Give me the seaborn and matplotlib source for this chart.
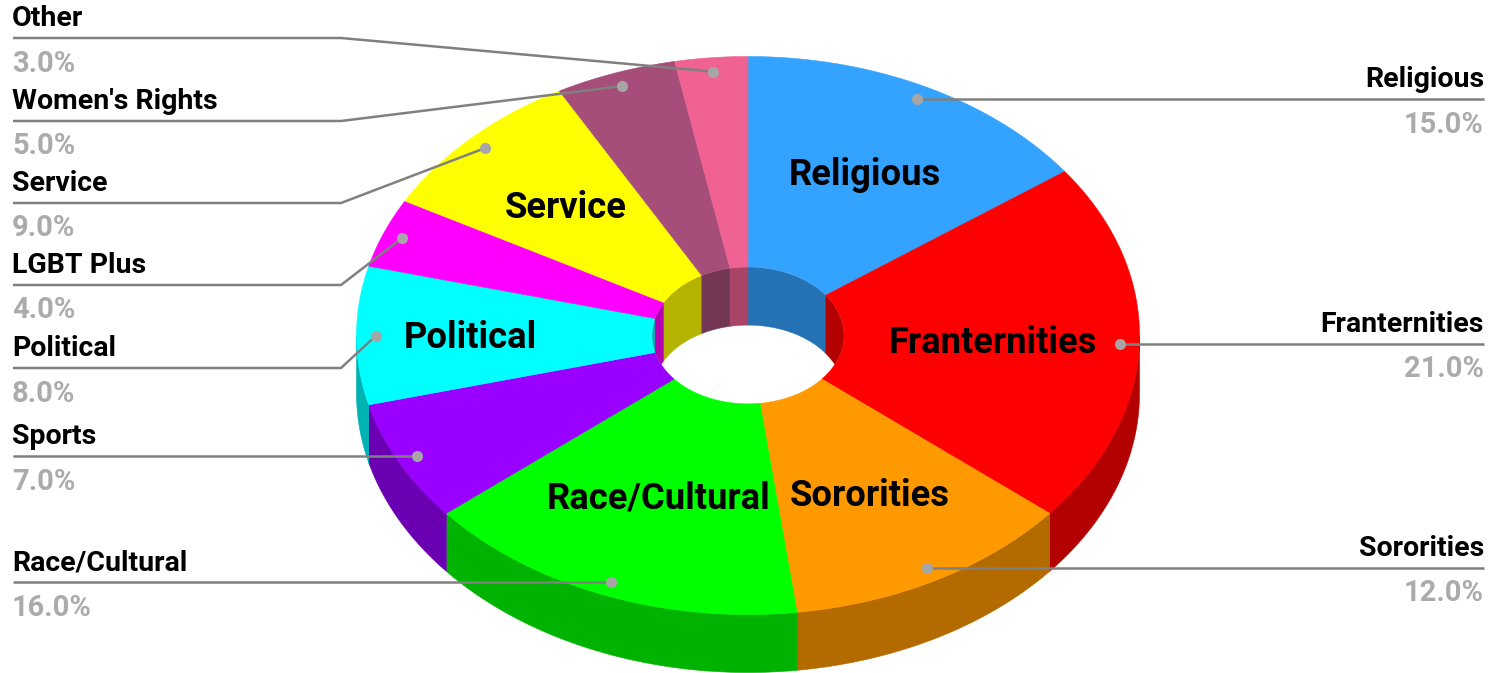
import numpy as np
import matplotlib
matplotlib.use("Agg")
import matplotlib.pyplot as plt
from matplotlib.patches import Ellipse
from matplotlib.colors import to_rgb
import seaborn as sns

# ---- data ----
categories = ["Religious", "Franternities", "Sororities", "Race/Cultural", "Sports",
              "Political", "LGBT Plus", "Service", "Women's Rights", "Other"]
shares = [15.0, 21.0, 12.0, 16.0, 7.0, 8.0, 4.0, 9.0, 5.0, 3.0]
colors = ["#33a3ff", "#ff0000", "#ff9900", "#00ff00", "#9900ff",
          "#00ffff", "#ff00ff", "#ffff00", "#a64d79", "#f06292"]
inner_labelled = ["Religious", "Franternities", "Sororities", "Race/Cultural", "Service", "Political"]

# ---- style ----
sns.set_theme(style="white")
plt.rcParams["font.family"] = ["Roboto", "DejaVu Sans"]

W, H = 1495, 673
fig = plt.figure(figsize=(W / 100, H / 100), dpi=100)
ax = fig.add_axes([0, 0, 1, 1])
ax.set_xlim(0, W)
ax.set_ylim(H, 0)
ax.axis("off")

CX, CY, RX, RY = 748.0, 335.5, 391.5, 279.0
HOLE = 0.245
DEPTH = 58.0
DOT_R = 0.95


def pt(theta, r=1.0, dy=0.0):
    t = np.radians(theta)
    return CX + RX * r * np.sin(t), CY - RY * r * np.cos(t) + dy


def shade(c, f=0.7):
    return tuple(v * f for v in to_rgb(c))


edges = np.concatenate([[0], np.cumsum(shares)]) / np.sum(shares) * 360.0
starts, ends = edges[:-1], edges[1:]
mids = (starts + ends) / 2

# outer wall (front half only)
for a, b, c in zip(starts, ends, colors):
    lo, hi = max(a, 90), min(b, 270)
    if hi <= lo:
        continue
    th = np.linspace(lo, hi, 120)
    x1, y1 = pt(th)
    x2, y2 = pt(th[::-1], dy=DEPTH)
    ax.fill(np.r_[x1, x2], np.r_[y1, y2], color=shade(c), lw=0.4, zorder=1)

# top face
for a, b, c in zip(starts, ends, colors):
    th = np.linspace(a, b, 200)
    x1, y1 = pt(th)
    x2, y2 = pt(th[::-1], r=HOLE)
    ax.fill(np.r_[x1, x2], np.r_[y1, y2], color=c, lw=0.4, zorder=2)

# inner wall (back half of the hole, seen through the hole)
clip = Ellipse((CX, CY), 2 * RX * HOLE, 2 * RY * HOLE, transform=ax.transData,
               fc="none", ec="none")
ax.add_patch(clip)
for a, b, c in zip(starts, ends, colors):
    for lo, hi in ((max(a, 270), b), (a, min(b, 90))):
        if hi <= lo:
            continue
        th = np.linspace(lo, hi, 80)
        x1, y1 = pt(th, r=HOLE)
        x2, y2 = pt(th[::-1], r=HOLE, dy=DEPTH)
        poly = ax.fill(np.r_[x1, x2], np.r_[y1, y2], color=shade(c), lw=0.3, zorder=3)[0]
        poly.set_clip_path(clip)

# labels on the slices
label_r = {"Religious": 0.655, "Franternities": 0.627, "Sororities": 0.647,
           "Race/Cultural": 0.622, "Service": 0.658, "Political": 0.708}
for name, m in zip(categories, mids):
    if name in inner_labelled:
        x, y = pt(m, r=label_r[name])
        ax.text(x, y + 2, name, fontsize=26.2, fontweight="bold", color="black",
                ha="center", va="center", zorder=6)

# callouts
LEAD = "#808080"
ELBOW = 341
LEFT, RIGHT = 13, 1484
left_y = {"Other": 38, "Women's Rights": 121, "Service": 203, "LGBT Plus": 285,
          "Political": 368, "Sports": 456, "Race/Cultural": 582}
for name, m, s in zip(categories, mids, shares):
    dx, dy = pt(m, r=DOT_R)
    if m < 180:
        ly, tx, ha = dy, RIGHT, "right"
        ax.plot([dx, RIGHT], [ly, ly], color=LEAD, lw=1.8, zorder=7, solid_capstyle="butt")
    else:
        ly, tx, ha = left_y[name], LEFT, "left"
        xs = [LEFT, ELBOW, dx] if abs(ly - dy) > 3 else [LEFT, dx]
        ys = [ly, ly, dy] if abs(ly - dy) > 3 else [ly, ly]
        ax.plot(xs, ys, color=LEAD, lw=1.8, zorder=7, solid_capstyle="butt")
    ax.plot([dx], [dy], "o", ms=8, color="#a6a6a6", mew=0, zorder=8)
    text_x = tx - 1 if ha == "left" else tx
    ax.text(text_x, ly - 12, name, fontsize=20.5, fontweight="bold", color="black",
            ha=ha, va="baseline", zorder=9)
    ax.text(text_x, ly + 33.5, f"{s:.1f}%", fontsize=21, fontweight="bold", color="#ababab",
            ha=ha, va="baseline", zorder=9)

fig.savefig("out.png", dpi=100, facecolor="white")
